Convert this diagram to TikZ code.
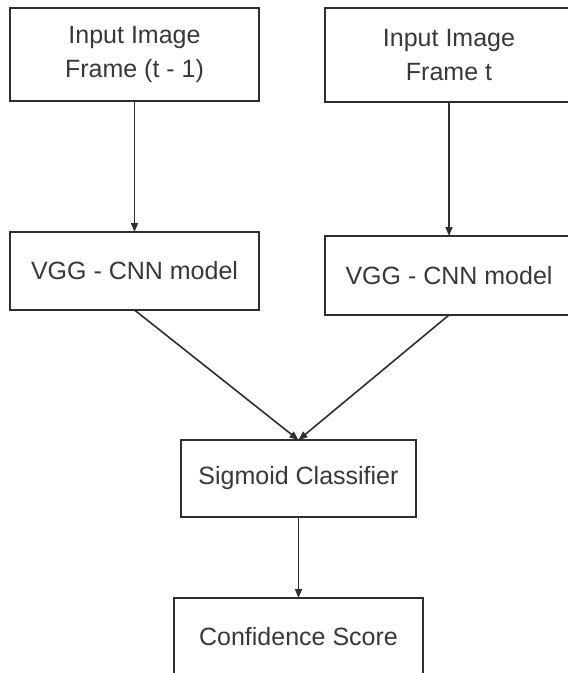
\documentclass[tikz,border=0pt]{standalone}
\usepackage{fontspec}
\setmainfont{Liberation Sans}
\usetikzlibrary{arrows.meta}
\definecolor{ink}{HTML}{2E2E2E}
\definecolor{txt}{HTML}{383838}
\begin{document}
\begin{tikzpicture}[x=1pt,y=-1pt,
  blk/.style={draw=ink, line width=1.8pt, inner sep=0pt, outer sep=0pt,
    text=txt, align=center, font=\fontsize{25}{34}\selectfont},
  arr/.style={draw=ink, line width=1.6pt, -{Triangle[length=9pt,width=7pt]}}]
\path[use as bounding box, clip] (0,0) rectangle (568,673);
\fill[white] (0,0) rectangle (568,673);
\node[blk, minimum width=249pt, minimum height=93pt] (a) at (134.5,54.5) {Input Image\\Frame (t - 1)};
\node[blk, minimum width=248pt, minimum height=94pt] (b) at (449,55) {Input Image\\Frame t};
\node[blk, minimum width=249pt, minimum height=78pt] (c) at (134.5,271) {VGG - CNN model};
\node[blk, minimum width=248pt, minimum height=79pt] (d) at (449,275.5) {VGG - CNN model};
\node[blk, minimum width=235pt, minimum height=77pt] (e) at (298.5,478.5) {Sigmoid Classifier};
\node[blk, minimum width=249pt, minimum height=78pt] (f) at (298.5,637) {Confidence Score};
\draw[arr] (a.south) -- (c.north);
\draw[arr] (b.south) -- (d.north);
\draw[arr] (c.south) -- (e.north);
\draw[arr] (d.south) -- (e.north);
\draw[arr] (e.south) -- (f.north);
\end{tikzpicture}
\end{document}
